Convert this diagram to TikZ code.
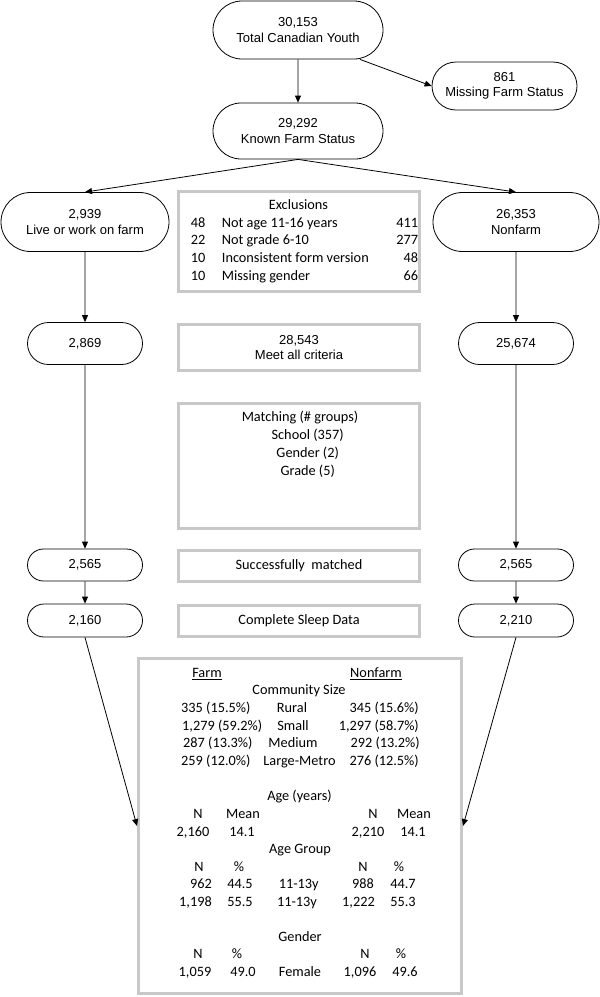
\documentclass[tikz,border=0pt]{standalone}
\usepackage{fontspec}
\usepackage{array}
\usepackage{tikz}
\usetikzlibrary{positioning,arrows.meta,shapes.misc}
\newfontfamily\arialfont{Liberation Sans}
\newfontfamily\calfont{Carlito}
\definecolor{boxgray}{RGB}{200,200,200}

\begin{document}
\begin{tikzpicture}[
    x=1pt, y=-1pt,
    pill/.style={draw, rounded rectangle, line width=0.8pt, inner sep=0pt,
                 font=\arialfont\fontsize{13}{15.3}\selectfont, align=center},
    gbox/.style={draw=boxgray, line width=2.7pt, inner sep=0pt,
                 font=\calfont\fontsize{14.3}{17.6}\selectfont, align=center},
    arr/.style={-{Triangle[length=7pt,width=6pt]}, line width=0.8pt},
    txt/.style={font=\calfont\fontsize{14.3}{17.6}\selectfont, inner sep=0pt, anchor=base}
  ]
  \useasboundingbox (0,0) rectangle (600,997);

  % --- Top of the flow ---
  \node[pill, minimum width=170, minimum height=58] (total) at (298,30) {30,153\\Total Canadian Youth};
  \node[pill, minimum width=145, minimum height=48] (missing) at (504.5,86) {861\\Missing Farm Status};
  \node[pill, minimum width=170, minimum height=56] (known) at (298,131) {29,292\\Known Farm Status};
  \draw[arr] (total) -- (known);
  \draw[arr] ([xshift=62pt]total.south) -- (missing.west);

  % --- Farm column ---
  \node[pill, minimum width=168, minimum height=59] (farm) at (85,222) {2,939\\Live or work on farm};
  \node[pill, minimum width=115, minimum height=42] (farmA) at (85,343.5) {2,869};
  \node[pill, minimum width=115, minimum height=32] (farmB) at (85,565) {2,565};
  \node[pill, minimum width=115, minimum height=33] (farmC) at (85,620.5) {2,160};

  % --- Nonfarm column ---
  \node[pill, minimum width=166, minimum height=59] (nonfarm) at (516,222) {26,353\\Nonfarm};
  \node[pill, minimum width=115, minimum height=42] (nonfarmA) at (516,343.5) {25,674};
  \node[pill, minimum width=115, minimum height=32] (nonfarmB) at (516,565) {2,565};
  \node[pill, minimum width=115, minimum height=33] (nonfarmC) at (516,620.5) {2,210};

  % --- Middle boxes ---
  \node[gbox, minimum width=241.3, minimum height=100.3] (excl) at (299,241.5) {};
  \node[txt] (exclhd) at (298.5,209.5) {Exclusions};
  \node[txt, anchor=base west] (excltab) at (188,227.2) {%
    \begin{tabular}[t]{@{}w{c}{20pt}@{\hspace{13.7pt}}w{l}{150pt}w{r}{34.3pt}@{}}
      48 & Not age 11-16 years & 411\\
      22 & Not grade 6-10 & 277\\
      10 & Inconsistent form version & 48\\
      10 & Missing gender & 66
    \end{tabular}};
  \node[gbox, minimum width=241.3, minimum height=46.3,
        font=\arialfont\fontsize{13}{15.3}\selectfont] (meet) at (299,347.5) {28,543\\Meet all criteria};
  \node[gbox, minimum width=241.3, minimum height=125.3] (match) at (299,466) {};
  \node[txt] (matchhd) at (300,421.8) {Matching (\# groups)};
  \node[txt] (matchsch) at (307.7,439.5) {School (357)};
  \node[txt] (matchgen) at (307.7,457.2) {Gender (2)};
  \node[txt] (matchgr) at (307.7,475.2) {Grade (5)};
  \node[gbox, minimum width=241.3, minimum height=31.3] (matched) at (299,566) {Successfully\ \ matched};
  \node[gbox, minimum width=241.3, minimum height=31.3] (sleep) at (299,621) {Complete Sleep Data};

  % --- Summary ---
  \node[gbox, minimum width=323.3, minimum height=335.3] (summary) at (300,826) {};
  \node[txt] (hdfarm) at (207,677.5) {\underline{Farm}};
  \node[txt] (hdnonfarm) at (376,677.5) {\underline{Nonfarm}};
  \node[txt] (cssize) at (299,694.5) {Community Size};
  \node[txt, anchor=base west] (rurF) at (181,712.5) {335 (15.5\%)};
  \node[txt] (rur) at (292,712.5) {Rural};
  \node[txt, anchor=base east] (rurN) at (419,712.5) {345 (15.6\%)};
  \node[txt, anchor=base west] (smaF) at (182,730.2) {1,279 (59.2\%)};
  \node[txt] (sma) at (293,730.2) {Small};
  \node[txt, anchor=base east] (smaN) at (419,730.2) {1,297 (58.7\%)};
  \node[txt, anchor=base west] (medF) at (183,747.9) {287 (13.3\%)};
  \node[txt] (med) at (293,747.9) {Medium};
  \node[txt, anchor=base east] (medN) at (420,747.9) {292 (13.2\%)};
  \node[txt, anchor=base west] (lrgF) at (181,765.6) {259 (12.0\%)};
  \node[txt] (lrg) at (299.5,765.6) {Large-Metro};
  \node[txt, anchor=base east] (lrgN) at (419,765.6) {276 (12.5\%)};
  % age
  \node[txt] (agehd) at (299.5,800.5) {Age (years)};
  \node[txt] (ageNF) at (198,818.5) {N};
  \node[txt] (ageMF) at (243,818.5) {Mean};
  \node[txt] (ageNN) at (373,818.5) {N};
  \node[txt] (ageMN) at (414,818.5) {Mean};
  \node[txt] (agenF) at (193,836.5) {2,160};
  \node[txt] (agemF) at (242,836.5) {14.1};
  \node[txt] (agenN) at (368,836.5) {2,210};
  \node[txt] (agemN) at (413,836.5) {14.1};
  % age group
  \node[txt] (agrhd) at (300,853.5) {Age Group};
  \node[txt] (agrNF) at (199,871.5) {N};
  \node[txt] (agrPF) at (239,871.5) {\%};
  \node[txt] (agrNN) at (363,871.5) {N};
  \node[txt] (agrPN) at (399,871.5) {\%};
  \node[txt, anchor=base east] (agr1nF) at (212,888.5) {962};
  \node[txt] (agr1pF) at (240,888.5) {44.5};
  \node[txt] (agr1) at (298.7,888.5) {11-13y};
  \node[txt, anchor=base east] (agr1nN) at (374,888.5) {988};
  \node[txt] (agr1pN) at (403,888.5) {44.7};
  \node[txt, anchor=base east] (agr2nF) at (212,906.5) {1,198};
  \node[txt] (agr2pF) at (240,906.5) {55.5};
  \node[txt] (agr2) at (297,906.5) {11-13y};
  \node[txt, anchor=base east] (agr2nN) at (375,906.5) {1,222};
  \node[txt] (agr2pN) at (403,906.5) {55.3};
  % gender
  \node[txt] (genhd) at (300,941.5) {Gender};
  \node[txt] (genNF) at (198,958.5) {N};
  \node[txt] (genPF) at (237,958.5) {\%};
  \node[txt] (genNN) at (365,958.5) {N};
  \node[txt] (genPN) at (401,958.5) {\%};
  \node[txt] (gennF) at (195,976.5) {1,059};
  \node[txt] (genpF) at (243,976.5) {49.0};
  \node[txt] (genf) at (300,976.5) {Female};
  \node[txt] (gennN) at (360,976.5) {1,096};
  \node[txt] (genpN) at (405,976.5) {49.6};

  % --- Connectors ---
  \draw[arr] (known.south) -- (farm.north);
  \draw[arr] (known.south) -- (nonfarm.north);
  \draw[arr] (farm) -- (farmA);
  \draw[arr] (farmA) -- (farmB);
  \draw[arr] (farmB) -- (farmC);
  \draw[arr] (farmC.south) -- (summary.west);
  \draw[arr] (nonfarm) -- (nonfarmA);
  \draw[arr] (nonfarmA) -- (nonfarmB);
  \draw[arr] (nonfarmB) -- (nonfarmC);
  \draw[arr] (nonfarmC.south) -- (summary.east);
\end{tikzpicture}
\end{document}
